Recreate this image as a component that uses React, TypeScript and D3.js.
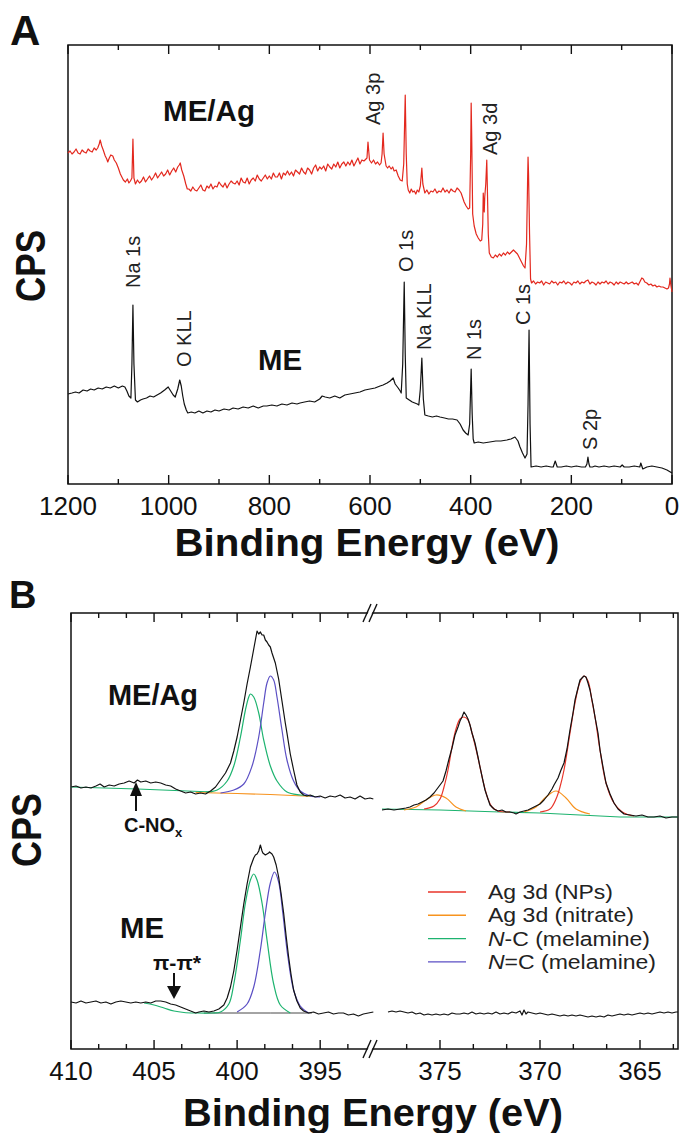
import * as d3 from "d3";

const W = 684;
const H = 1133;
const FONT = "'Liberation Sans', Arial, Helvetica, sans-serif";

// ---- panel A : survey spectra, [binding energy (eV), counts (a.u.)]
const surveyTicks = [1200, 1000, 800, 600, 400, 200, 0];

const surveyMeAg: [number, number][] = [
  [1200, 331], [1196, 333], [1192, 330], [1188, 332], [1184, 335], [1180, 331], [1176, 330], [1172, 334],
  [1168, 332], [1164, 331], [1160, 335], [1156, 333], [1152, 332], [1148, 336], [1144, 334], [1141, 336],
  [1138, 340], [1136, 344], [1133, 338], [1130, 334], [1126, 328], [1123, 325], [1121, 322], [1118, 326],
  [1115, 329], [1111, 328], [1108, 324], [1104, 321], [1100, 316], [1096, 310], [1093, 307], [1090, 304],
  [1086, 302], [1082, 305], [1079, 301], [1076, 303], [1073, 306], [1071, 345], [1069, 306], [1066, 300],
  [1062, 304], [1058, 301], [1054, 303], [1050, 307], [1046, 302], [1042, 305], [1038, 308], [1034, 304],
  [1030, 307], [1026, 311], [1022, 306], [1018, 309], [1014, 312], [1010, 308], [1006, 310], [1002, 314],
  [998, 309], [994, 313], [990, 316], [986, 312], [982, 317], [979, 319], [977, 321], [974, 314],
  [970, 308], [966, 300], [963, 295], [960, 295], [956, 293], [952, 297], [948, 294], [944, 293],
  [940, 296], [936, 299], [932, 294], [928, 293], [924, 298], [920, 296], [916, 300], [912, 295],
  [908, 298], [904, 297], [900, 302], [896, 299], [892, 297], [888, 301], [884, 296], [880, 300],
  [876, 303], [872, 301], [868, 300], [864, 303], [860, 299], [856, 306], [852, 302], [848, 301],
  [844, 306], [840, 300], [836, 304], [832, 306], [828, 303], [824, 309], [820, 305], [816, 303],
  [812, 306], [808, 309], [804, 305], [800, 308], [796, 305], [792, 311], [788, 307], [784, 307],
  [780, 311], [776, 305], [772, 311], [768, 309], [764, 313], [760, 309], [756, 312], [752, 308],
  [748, 314], [744, 312], [740, 310], [736, 316], [732, 312], [728, 310], [724, 316], [720, 314],
  [716, 310], [712, 316], [708, 319], [704, 313], [700, 317], [696, 315], [692, 318], [688, 313],
  [684, 320], [680, 317], [676, 315], [672, 320], [668, 317], [664, 322], [660, 316], [656, 320],
  [652, 322], [648, 318], [644, 322], [640, 319], [636, 324], [632, 318], [628, 322], [624, 326],
  [620, 320], [616, 324], [612, 323], [608, 325], [606, 326], [604, 342], [601, 324], [597, 321],
  [593, 324], [589, 320], [585, 322], [581, 319], [578, 321], [576, 330], [574, 351], [572, 330],
  [568, 318], [565, 316], [562, 318], [558, 315], [555, 317], [552, 313], [548, 314], [544, 308],
  [540, 304], [536, 303], [533, 320], [530, 389], [528, 330], [526, 300], [524, 294], [521, 291],
  [518, 295], [515, 292], [512, 293], [509, 290], [506, 294], [503, 292], [500, 298], [497, 316],
  [495, 300], [491, 291], [487, 294], [483, 290], [479, 293], [475, 292], [471, 295], [467, 291],
  [463, 293], [459, 292], [455, 296], [451, 292], [447, 294], [443, 291], [439, 295], [435, 293],
  [431, 292], [427, 296], [423, 294], [419, 291], [417, 288], [413, 282], [409, 278], [405, 275],
  [402, 276], [400, 330], [399, 381], [398, 350], [396, 270], [393, 258], [389, 250], [385, 246],
  [381, 243], [378, 244], [376, 260], [375, 291], [374, 280], [373, 272], [372, 287], [370, 300],
  [368, 324], [367, 300], [365, 250], [363, 231], [359, 227], [355, 226], [351, 229], [347, 227],
  [343, 230], [339, 228], [335, 231], [331, 229], [327, 232], [323, 230], [319, 232], [315, 234],
  [311, 232], [307, 230], [303, 226], [299, 222], [295, 218], [292, 216], [289, 240], [287, 300],
  [286, 327], [285, 310], [283, 250], [281, 205], [279, 201], [275, 203], [271, 200], [267, 202],
  [263, 201], [259, 203], [255, 199], [251, 202], [247, 201], [243, 200], [239, 203], [235, 201],
  [231, 202], [227, 199], [223, 202], [219, 201], [215, 203], [211, 200], [207, 202], [203, 201],
  [199, 199], [195, 202], [191, 201], [187, 203], [183, 200], [179, 202], [175, 201], [171, 203],
  [167, 204], [163, 200], [159, 202], [155, 201], [151, 199], [147, 202], [143, 200], [139, 202],
  [135, 201], [131, 203], [127, 200], [123, 202], [119, 201], [115, 199], [111, 202], [107, 200],
  [103, 202], [99, 201], [95, 200], [91, 202], [87, 200], [83, 201], [79, 202], [75, 200],
  [71, 201], [67, 199], [63, 203], [60, 206], [57, 205], [54, 202], [50, 201], [46, 199],
  [42, 200], [38, 198], [34, 199], [30, 197], [26, 198], [22, 197], [18, 197], [14, 196],
  [10, 195], [7, 196], [5, 200], [4, 206], [2, 198], [0, 192],
];

const surveyMe: [number, number][] = [
  [1200, 90], [1192, 91], [1185, 92], [1178, 91], [1170, 94], [1162, 93], [1155, 95], [1148, 94],
  [1140, 96], [1132, 95], [1124, 97], [1116, 96], [1108, 98], [1100, 96], [1092, 98], [1087, 97],
  [1083, 93], [1079, 88], [1075, 86], [1073, 120], [1071, 179], [1069, 120], [1066, 84], [1062, 82],
  [1056, 84], [1051, 85], [1044, 86], [1037, 88], [1030, 87], [1023, 89], [1016, 91], [1008, 94],
  [1001, 97], [996, 93], [991, 89], [987, 87], [982, 95], [978, 104], [975, 98], [972, 88],
  [969, 80], [965, 74], [962, 71], [955, 72], [948, 71], [940, 73], [932, 71], [924, 73],
  [916, 72], [908, 74], [900, 73], [890, 75], [880, 74], [872, 76], [862, 75], [852, 77],
  [842, 76], [832, 78], [822, 76], [812, 78], [805, 78], [795, 79], [785, 78], [775, 80],
  [765, 79], [755, 81], [745, 80], [739, 81], [730, 82], [720, 83], [710, 82], [700, 85],
  [695, 88], [689, 87], [680, 86], [670, 88], [660, 86], [650, 89], [640, 90], [630, 91],
  [620, 92], [610, 94], [600, 95], [590, 96], [580, 98], [574, 99], [566, 101], [560, 103],
  [554, 106], [550, 100], [544, 96], [540, 93], [538, 91], [535, 120], [532, 202], [530, 130],
  [528, 86], [522, 84], [516, 82], [511, 81], [506, 80], [503, 79], [500, 95], [497, 126],
  [494, 85], [491, 69], [484, 68], [476, 67], [468, 68], [461, 67], [452, 66], [444, 65],
  [436, 65], [427, 64], [421, 60], [415, 54], [410, 51], [405, 49], [402, 60], [399, 115],
  [397, 70], [395, 45], [393, 41], [385, 42], [375, 41], [362, 42], [350, 43], [340, 43],
  [328, 44], [320, 45], [312, 47], [306, 43], [302, 37], [297, 31], [292, 26], [288, 30],
  [286, 80], [284, 154], [282, 60], [280, 17], [270, 18], [260, 17], [250, 18], [240, 17],
  [236, 17], [232, 23], [228, 17], [220, 17], [210, 18], [200, 17], [190, 18], [180, 17],
  [172, 17], [169, 20], [167, 27], [165, 20], [163, 17], [158, 17], [153, 18], [145, 17],
  [135, 18], [125, 17], [115, 18], [103, 17], [99, 19], [95, 17], [85, 17], [75, 18],
  [64, 17], [62, 21], [58, 15], [50, 17], [40, 18], [30, 17], [20, 16], [10, 14], [0, 11],
];

// rotated peak labels: [text, BE at baseline, counts where text starts]
const surveyLabels: [string, number, number][] = [
  ["Ag 3p", 581, 359],
  ["Ag 3d", 348, 329],
  ["Na 1s", 1057, 196],
  ["O 1s", 515, 212],
  ["Na KLL", 479, 134],
  ["N 1s", 379, 124],
  ["C 1s", 282, 159],
  ["O KLL", 956, 117],
  ["S 2p", 149, 34],
];

// ---- panel B : high resolution N 1s / Ag 3d
const hrLeftTicks = [410, 405, 400, 395];
const hrRightTicks = [375, 370, 365];

const n1sMeAg: [number, number][] = [
  [410.0, 262], [409.7, 263], [409.4, 261], [409.1, 262], [408.8, 261], [408.5, 263], [408.25, 265], [408.0, 262],
  [407.7, 264], [407.4, 263], [407.1, 265], [406.8, 266], [406.5, 268], [406.2, 266], [406.0, 269], [405.8, 267],
  [405.5, 268], [405.2, 266], [404.9, 267], [404.6, 266], [404.3, 264], [404.0, 263], [403.7, 260], [403.4, 258],
  [403.1, 256], [402.8, 257], [402.5, 255], [402.2, 256], [401.9, 255], [401.6, 258], [401.3, 262], [401.0, 269],
  [400.7, 276], [400.4, 286], [400.2, 298], [400.0, 312], [399.8, 329], [399.6, 346], [399.4, 365], [399.2, 382],
  [399.0, 400], [398.9, 409], [398.8, 418], [398.7, 415], [398.6, 417], [398.5, 414], [398.4, 414], [398.3, 409],
  [398.2, 407], [398.1, 404], [398.0, 402], [397.9, 396], [397.7, 386], [397.5, 370], [397.3, 348], [397.1, 326],
  [397.0, 316], [396.8, 295], [396.6, 279], [396.4, 264], [396.2, 257], [396.0, 254], [395.8, 253], [395.6, 254],
  [395.3, 252], [395.0, 253], [394.7, 251], [394.4, 253], [394.1, 252], [393.8, 254], [393.5, 251], [393.2, 252],
  [392.9, 250], [392.6, 253], [392.3, 250], [392.0, 251], [391.8, 250],
];
const n1sMe: [number, number][] = [
  [410.0, 47], [409.7, 46], [409.4, 48], [409.1, 46], [408.8, 47], [408.5, 48], [408.2, 46], [407.9, 47],
  [407.6, 45], [407.3, 47], [407.0, 48], [406.7, 47], [406.4, 46], [406.1, 47], [405.8, 46], [405.5, 47],
  [405.2, 46], [404.9, 48], [404.6, 48], [404.3, 47], [404.0, 45], [403.7, 44], [403.4, 42], [403.1, 40],
  [402.8, 38], [402.5, 36], [402.3, 37], [402.0, 38], [401.7, 37], [401.4, 38], [401.1, 40], [400.8, 44],
  [400.6, 51], [400.4, 62], [400.2, 78], [400.0, 99], [399.8, 122], [399.6, 145], [399.4, 165], [399.2, 182],
  [399.0, 191], [398.9, 194], [398.8, 195], [398.7, 198], [398.6, 204], [398.5, 198], [398.45, 196], [398.3, 194],
  [398.2, 195], [398.1, 196], [398.05, 197], [397.9, 195], [397.8, 192], [397.65, 184], [397.5, 172], [397.35, 155],
  [397.2, 136], [397.05, 113], [396.9, 92], [396.75, 74], [396.6, 59], [396.4, 48], [396.2, 41], [396.0, 38],
  [395.7, 36], [395.4, 37], [395.1, 35], [394.8, 36], [394.5, 37], [394.2, 35], [393.9, 36], [393.6, 36],
  [393.3, 34], [393.0, 35], [392.7, 33], [392.4, 35], [392.1, 36], [391.8, 37],
];
const ag3dMeAg: [number, number][] = [
  [377.9, 239], [377.6, 240], [377.3, 239], [377.0, 240], [376.7, 241], [376.5, 242], [376.3, 244], [376.1, 245],
  [375.9, 247], [375.7, 249], [375.5, 252], [375.3, 256], [375.15, 260], [375.0, 264], [374.85, 268], [374.7, 278],
  [374.55, 290], [374.4, 301], [374.25, 314], [374.1, 322], [374.0, 328], [373.9, 332], [373.8, 337], [373.7, 334],
  [373.6, 330], [373.5, 324], [373.4, 316], [373.25, 306], [373.1, 292], [373.0, 282], [372.85, 268], [372.75, 259],
  [372.6, 250], [372.5, 244], [372.3, 240], [372.1, 238], [371.9, 239], [371.7, 237], [371.5, 237], [371.3, 236],
  [371.2, 235], [371.0, 237], [370.8, 238], [370.6, 239], [370.4, 241], [370.2, 243], [370.0, 245], [369.8, 249],
  [369.6, 254], [369.4, 260], [369.3, 264], [369.1, 271], [368.95, 279], [368.8, 286], [368.65, 300], [368.5, 319],
  [368.35, 336], [368.25, 349], [368.1, 361], [368.0, 369], [367.9, 371], [367.8, 373], [367.7, 372], [367.6, 366],
  [367.5, 359], [367.35, 344], [367.25, 332], [367.1, 316], [367.0, 299], [366.85, 282], [366.7, 266], [366.5, 255],
  [366.3, 246], [366.1, 240], [365.8, 235], [365.5, 234], [365.2, 233], [364.9, 234], [364.6, 232], [364.3, 232],
  [364.0, 233], [363.7, 231], [363.4, 232], [363.1, 232],
];
const ag3dMe: [number, number][] = [
  [377.6, 37], [377.4, 38], [377.2, 37], [377.0, 38], [376.8, 37], [376.6, 36], [376.4, 37], [376.2, 35],
  [376.0, 36], [375.8, 34], [375.6, 35], [375.4, 34], [375.2, 35], [375.0, 34], [374.8, 35], [374.6, 34],
  [374.4, 36], [374.2, 35], [374.0, 35], [373.8, 36], [373.6, 35], [373.4, 37], [373.2, 35], [373.0, 36],
  [372.8, 35], [372.6, 36], [372.4, 35], [372.2, 37], [372.0, 35], [371.8, 36], [371.6, 35], [371.4, 37],
  [371.2, 36], [371.0, 38], [370.9, 34], [370.8, 39], [370.7, 35], [370.6, 37], [370.4, 36], [370.2, 35],
  [370.0, 36], [369.8, 35], [369.6, 34], [369.4, 35], [369.2, 34], [369.0, 33], [368.8, 34], [368.6, 33],
  [368.4, 34], [368.2, 33], [368.0, 34], [367.8, 33], [367.6, 32], [367.4, 33], [367.2, 32], [367.0, 33],
  [366.8, 32], [366.6, 34], [366.4, 33], [366.2, 34], [366.0, 35], [365.8, 34], [365.6, 35], [365.4, 34],
  [365.2, 35], [365.0, 36], [364.8, 35], [364.6, 36], [364.4, 35], [364.2, 36], [364.0, 37], [363.8, 36],
  [363.6, 37], [363.4, 36], [363.2, 37], [363.1, 37],
];

// fitted components
const meAgBaseGreen: [number, number][] = [[410, 262], [406, 260], [403, 258], [401.5, 257]];
const meAgBaseOrange: [number, number][] = [[402.5, 256.5], [400, 255.5], [398, 254.5], [396, 253], [395.5, 252.5]];
const meAgNC: [number, number][] = [
  [401.9, 257], [401.2, 259], [400.6, 268], [400.2, 283], [399.8, 312], [399.5, 339], [399.3, 352], [399.2, 355],
  [399.0, 352], [398.7, 336], [398.4, 309], [398.0, 283], [397.6, 268], [397.0, 257], [396.2, 254], [395.4, 253],
];
const meAgNdC: [number, number][] = [
  [401.0, 256], [400.2, 259], [399.6, 265], [399.1, 283], [398.7, 312], [398.4, 346], [398.2, 366], [398.0, 373],
  [397.8, 369], [397.6, 352], [397.3, 319], [397.0, 289], [396.6, 268], [396.2, 258], [395.6, 253], [395.0, 252],
];
const agNp32: [number, number][] = [
  [375.8, 240], [375.3, 243], [375.0, 250], [374.8, 262], [374.6, 279], [374.4, 302], [374.2, 320], [374.0, 330],
  [373.8, 332], [373.6, 329], [373.4, 316], [373.2, 300], [373.0, 282], [372.8, 264], [372.6, 250], [372.4, 242],
  [372.1, 238], [371.5, 237],
];
const agNp52: [number, number][] = [
  [370.0, 237], [369.5, 240], [369.2, 250], [369.0, 262], [368.8, 279], [368.5, 316], [368.25, 346], [368.0, 367],
  [367.8, 373], [367.6, 368], [367.4, 348], [367.25, 332], [367.0, 299], [366.7, 266], [366.3, 246], [365.8, 236],
  [365.3, 233],
];
const agNit32: [number, number][] = [
  [376.8, 239], [376.2, 242], [375.7, 249], [375.2, 254], [374.7, 251], [374.2, 242], [373.7, 238],
];
const agNit52: [number, number][] = [
  [370.8, 237], [370.2, 242], [369.7, 252], [369.2, 258], [368.7, 251], [368.2, 240], [367.5, 235],
];
const agBase: [number, number][] = [[377.9, 240], [375, 239], [372, 237], [370, 236], [368, 234], [366, 232], [363.1, 232]];
const meNC: [number, number][] = [
  [405.6, 46], [405.0, 44], [404.4, 41], [403.8, 38], [403.2, 36.5], [402.5, 36], [401.5, 36], [401.0, 37],
  [400.5, 45], [400.2, 65], [399.8, 109], [399.5, 146], [399.2, 169], [399.0, 175], [398.8, 169], [398.5, 146],
  [398.2, 109], [397.8, 65], [397.4, 44], [396.8, 36],
];
const meNdC: [number, number][] = [
  [400.0, 37], [399.4, 45], [399.0, 62], [398.6, 99], [398.3, 136], [398.0, 166], [397.75, 177], [397.5, 167],
  [397.25, 136], [396.95, 93], [396.6, 59], [396.2, 43], [395.7, 36],
];
const meBase: [number, number][] = [[402.0, 36], [398, 36], [395.5, 36]];

const RED = "#e3281e";
const C_NP = "#e8352a";
const C_NIT = "#f7931e";
const C_NC = "#1db36f";
const C_NDC = "#5b4fc4";

const legendItems = [
  { it: "", txt: "Ag 3d (NPs)", color: C_NP, len: 125 },
  { it: "", txt: "Ag 3d (nitrate)", color: C_NIT, len: 146 },
  { it: "N", txt: "-C (melamine)", color: C_NC, len: 162 },
  { it: "N", txt: "=C (melamine)", color: C_NDC, len: 168 },
];

type P = [number, number];

export default function App() {
  // panel A
  const xA = d3.scaleLinear().domain([1200, 0]).range([68, 672]);
  const yA = d3.scaleLinear().domain([0, 439]).range([484, 45]);
  const lineA = d3.line<P>().x((d) => xA(d[0])).y((d) => yA(d[1]));

  // panel B, broken axis
  const xBL = d3.scaleLinear().domain([410, 391.7]).range([71, 375]);
  const xBR = d3.scaleLinear().domain([377.9, 363.1]).range([382, 678]);
  const yB = d3.scaleLinear().domain([0, 436]).range([1049, 613]);
  const lineBL = d3.line<P>().x((d) => xBL(d[0])).y((d) => yB(d[1]));
  const lineBR = d3.line<P>().x((d) => xBR(d[0])).y((d) => yB(d[1]));
  const smoothL = d3.line<P>().x((d) => xBL(d[0])).y((d) => yB(d[1])).curve(d3.curveCatmullRom.alpha(0.5));
  const smoothR = d3.line<P>().x((d) => xBR(d[0])).y((d) => yB(d[1])).curve(d3.curveCatmullRom.alpha(0.5));

  const ticksA = d3.range(1200, -1, -100);
  const ticksBL = d3.range(0, 11).map((i) => 410 - (i * 5) / 3);
  const ticksBR = d3.range(0, 9).map((i) => 376.6667 - (i * 5) / 3);

  const aTop = yA.range()[1];
  const aBot = yA.range()[0];
  const bTop = yB.range()[1];
  const bBot = yB.range()[0];
  const breakX = 373;

  const tickMark = (x: number, major: boolean, top: number, bot: number, key: string) => {
    const len = major ? 9 : 5;
    return (
      <g key={key}>
        <line x1={x} x2={x} y1={top} y2={top + len} stroke="#111" strokeWidth={1.4} />
        <line x1={x} x2={x} y1={bot} y2={bot - len} stroke="#111" strokeWidth={1.4} />
      </g>
    );
  };

  const breakMark = (y: number, key: string) => (
    <g key={key}>
      <polygon points={`${breakX - 9},${y + 9} ${breakX - 1},${y - 9} ${breakX + 3},${y - 9} ${breakX - 5},${y + 9}`} fill="#fff" />
      <line x1={breakX - 10} y1={y + 9} x2={breakX - 2} y2={y - 9} stroke="#111" strokeWidth={1.4} />
      <line x1={breakX - 4} y1={y + 9} x2={breakX + 4} y2={y - 9} stroke="#111" strokeWidth={1.4} />
    </g>
  );

  return (
    <svg
      width={W}
      height={H}
      viewBox={`0 0 ${W} ${H}`}
      style={{ position: "absolute", left: 0, top: 0, background: "#fff" }}
      fontFamily={FONT}
    >
      <rect width={W} height={H} fill="#fff" />

      {/* ================= panel A ================= */}
      <text x={10} y={45} fontSize={42} fontWeight="bold" fill="#111">A</text>
      <rect x={68} y={aTop} width={604} height={aBot - aTop} fill="none" stroke="#111" strokeWidth={1.5} />
      {ticksA.map((v) => tickMark(xA(v), v % 200 === 0, aTop, aBot, `ta${v}`))}

      <path d={lineA(surveyMeAg) ?? ""} fill="none" stroke={RED} strokeWidth={1.2} strokeLinejoin="round" />
      <path d={lineA(surveyMe) ?? ""} fill="none" stroke="#111" strokeWidth={1.2} strokeLinejoin="round" />

      {surveyLabels.map(([t, be, c]) => (
        <text
          key={t}
          transform={`translate(${xA(be)},${yA(c)}) rotate(-90)`}
          fontSize={20}
          fill="#222"
        >
          {t}
        </text>
      ))}

      <text x={163} y={121} fontSize={29} fontWeight="bold" fill="#111" textLength={92} lengthAdjust="spacingAndGlyphs">ME/Ag</text>
      <text x={258} y={370} fontSize={29} fontWeight="bold" fill="#111" textLength={44} lengthAdjust="spacingAndGlyphs">ME</text>

      {surveyTicks.map((v) => (
        <text key={`la${v}`} x={xA(v)} y={515} fontSize={26} textAnchor="middle" fill="#111">{v}</text>
      ))}
      <text x={367} y={556} fontSize={39} fontWeight="bold" textAnchor="middle" fill="#111" textLength={385} lengthAdjust="spacingAndGlyphs">
        Binding Energy (eV)
      </text>
      <text transform="translate(45,302) rotate(-90)" fontSize={42} fontWeight="bold" fill="#111" textLength={72} lengthAdjust="spacingAndGlyphs">CPS</text>

      {/* ================= panel B ================= */}
      <text x={9} y={608} fontSize={38} fontWeight="bold" fill="#111">B</text>
      <rect x={71} y={bTop} width={607} height={bBot - bTop} fill="none" stroke="#111" strokeWidth={1.5} />
      {ticksBL.map((v, i) => tickMark(xBL(v), i % 3 === 0, bTop, bBot, `tbl${i}`))}
      {ticksBR.map((v, i) => tickMark(xBR(v), i % 3 === 1, bTop, bBot, `tbr${i}`))}
      {breakMark(bTop, "bk1")}
      {breakMark(bBot, "bk2")}

      {/* ME/Ag N 1s components */}
      <path d={lineBL(meAgBaseGreen) ?? ""} fill="none" stroke={C_NC} strokeWidth={1.1} />
      <path d={lineBL(meAgBaseOrange) ?? ""} fill="none" stroke={C_NIT} strokeWidth={1.2} />
      <path d={smoothL(meAgNC) ?? ""} fill="none" stroke={C_NC} strokeWidth={1.2} />
      <path d={smoothL(meAgNdC) ?? ""} fill="none" stroke={C_NDC} strokeWidth={1.2} />
      <path d={lineBL(n1sMeAg) ?? ""} fill="none" stroke="#111" strokeWidth={1.2} strokeLinejoin="round" />

      {/* ME/Ag Ag 3d components */}
      <path d={lineBR(agBase) ?? ""} fill="none" stroke={C_NC} strokeWidth={1.2} />
      <path d={smoothR(agNit32) ?? ""} fill="none" stroke={C_NIT} strokeWidth={1.2} />
      <path d={smoothR(agNit52) ?? ""} fill="none" stroke={C_NIT} strokeWidth={1.2} />
      <path d={smoothR(agNp32) ?? ""} fill="none" stroke={C_NP} strokeWidth={1.2} />
      <path d={smoothR(agNp52) ?? ""} fill="none" stroke={C_NP} strokeWidth={1.2} />
      <path d={lineBR(ag3dMeAg) ?? ""} fill="none" stroke="#111" strokeWidth={1.2} strokeLinejoin="round" />

      {/* ME N 1s components */}
      <path d={lineBL(meBase) ?? ""} fill="none" stroke="#333" strokeWidth={0.9} />
      <path d={smoothL(meNC) ?? ""} fill="none" stroke={C_NC} strokeWidth={1.2} />
      <path d={smoothL(meNdC) ?? ""} fill="none" stroke={C_NDC} strokeWidth={1.2} />
      <path d={lineBL(n1sMe) ?? ""} fill="none" stroke="#111" strokeWidth={1.2} strokeLinejoin="round" />
      <path d={lineBR(ag3dMe) ?? ""} fill="none" stroke="#111" strokeWidth={1.2} strokeLinejoin="round" />

      {/* annotations */}
      <text x={108} y={705} fontSize={29} fontWeight="bold" fill="#111" textLength={90} lengthAdjust="spacingAndGlyphs">ME/Ag</text>
      <text x={120} y={938} fontSize={29} fontWeight="bold" fill="#111" textLength={44} lengthAdjust="spacingAndGlyphs">ME</text>

      <polygon points="136,782 130,796 142,796" fill="#111" />
      <line x1={136} x2={136} y1={794} y2={811} stroke="#111" strokeWidth={2} />
      <text x={124} y={832} fontSize={20} fontWeight="bold" fill="#111">
        C-NO<tspan fontSize={13} dy={5}>x</tspan>
      </text>

      <text x={153} y={970} fontSize={20} fontWeight="bold" fill="#111" textLength={48} lengthAdjust="spacingAndGlyphs">π-π*</text>
      <line x1={174} x2={174} y1={973} y2={988} stroke="#111" strokeWidth={2} />
      <polygon points="174,999 167,986 181,986" fill="#111" />

      {/* legend */}
      {legendItems.map((d, i) => {
        const y = 892 + i * 23.3;
        return (
          <g key={`lg${i}`}>
            <line x1={428} x2={466} y1={y} y2={y} stroke={d.color} strokeWidth={1.4} />
            <text x={488} y={y + 7} fontSize={20} fill="#222" textLength={d.len} lengthAdjust="spacingAndGlyphs">
              {d.it ? <tspan fontStyle="italic">{d.it}</tspan> : null}
              {d.txt}
            </text>
          </g>
        );
      })}

      {hrLeftTicks.map((v) => (
        <text key={`lbl${v}`} x={xBL(v)} y={1080} fontSize={26} textAnchor="middle" fill="#111">{v}</text>
      ))}
      {hrRightTicks.map((v) => (
        <text key={`lbr${v}`} x={xBR(v)} y={1080} fontSize={26} textAnchor="middle" fill="#111">{v}</text>
      ))}
      <text x={373} y={1126} fontSize={39} fontWeight="bold" textAnchor="middle" fill="#111" textLength={380} lengthAdjust="spacingAndGlyphs">
        Binding Energy (eV)
      </text>
      <text transform="translate(41,867) rotate(-90)" fontSize={42} fontWeight="bold" fill="#111" textLength={74} lengthAdjust="spacingAndGlyphs">CPS</text>
    </svg>
  );
}
